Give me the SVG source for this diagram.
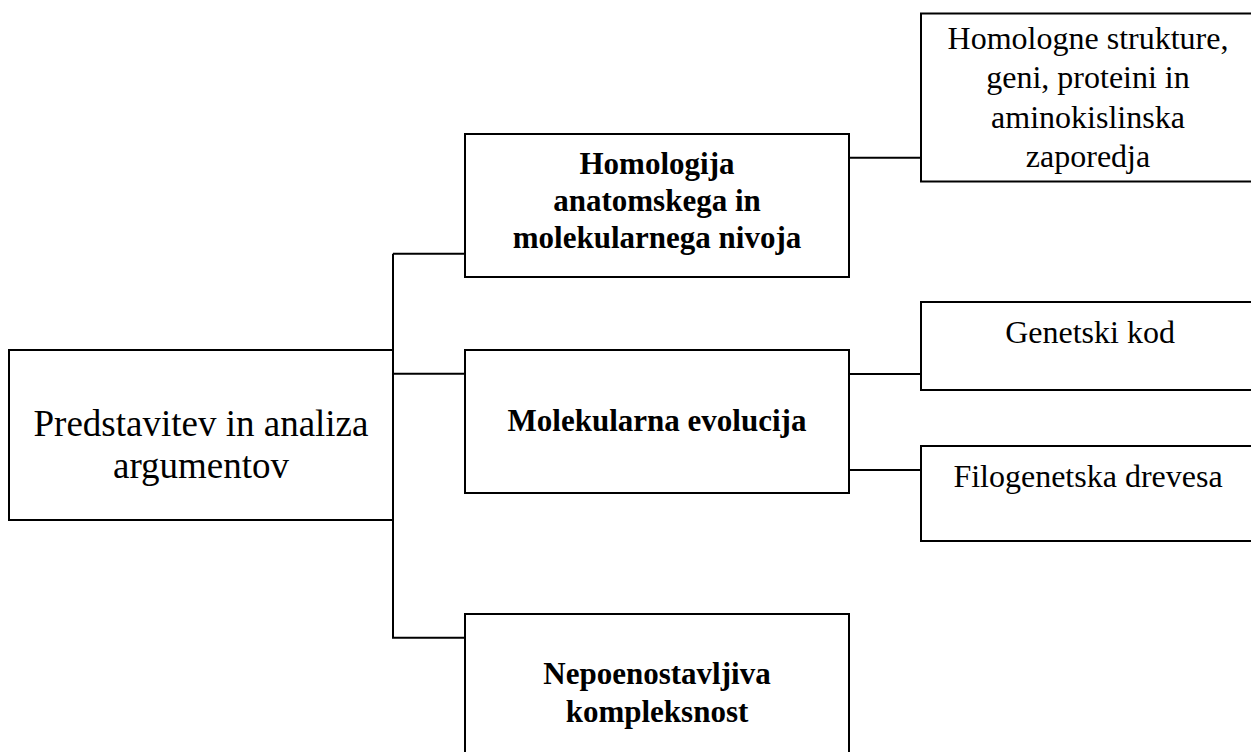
<svg xmlns="http://www.w3.org/2000/svg" width="1251" height="752" viewBox="0 0 1251 752">
<style>
.box{fill:#fff;stroke:#000;stroke-width:2}
.conn{fill:none;stroke:#000;stroke-width:2}
.t{font-family:"Liberation Serif","Times New Roman",serif;fill:#000;text-anchor:middle}
.r{font-size:32px}
.b{font-size:31px;font-weight:bold}
.root{font-size:37px}
</style>
<rect width="1251" height="752" fill="#fff"/>
<g id="connectors">
<polyline class="conn" points="393,520 393,253.7"/>
<polyline class="conn" points="393,253.7 465,253.7"/>
<polyline class="conn" points="393,373.7 465,373.7"/>
<polyline class="conn" points="393,520 393,637.7 465,637.7"/>
<polyline class="conn" points="849,157.7 921,157.7"/>
<polyline class="conn" points="849,374 921,374"/>
<polyline class="conn" points="849,470 921,470"/>
</g>
<g id="root">
<rect class="box" x="9" y="350" width="384" height="170"/>
<text class="t root" x="201" y="436">Predstavitev in analiza</text>
<text class="t root" x="201" y="478">argumentov</text>
</g>
<g id="homologija">
<rect class="box" x="465" y="134" width="384" height="143"/>
<text class="t b" x="657" y="174">Homologija</text>
<text class="t b" x="657" y="211">anatomskega in</text>
<text class="t b" x="657" y="248">molekularnega nivoja</text>
</g>
<g id="molekularna">
<rect class="box" x="465" y="350" width="384" height="143"/>
<text class="t b" x="657" y="431">Molekularna evolucija</text>
</g>
<g id="nepoenostavljiva">
<rect class="box" x="465" y="614" width="384" height="150"/>
<text class="t b" x="657" y="684">Nepoenostavljiva</text>
<text class="t b" x="657" y="722">kompleksnost</text>
</g>
<g id="homologne">
<rect class="box" x="921" y="13.5" width="345" height="168"/>
<text class="t r" x="1088" y="49">Homologne strukture,</text>
<text class="t r" x="1088" y="88">geni, proteini in</text>
<text class="t r" x="1088" y="128">aminokislinska</text>
<text class="t r" x="1088" y="167">zaporedja</text>
</g>
<g id="genetski">
<rect class="box" x="921" y="302" width="345" height="88"/>
<text class="t r" x="1090" y="343">Genetski kod</text>
</g>
<g id="filogenetska">
<rect class="box" x="921" y="446" width="345" height="95"/>
<text class="t r" x="1088" y="487">Filogenetska drevesa</text>
</g>
</svg>
